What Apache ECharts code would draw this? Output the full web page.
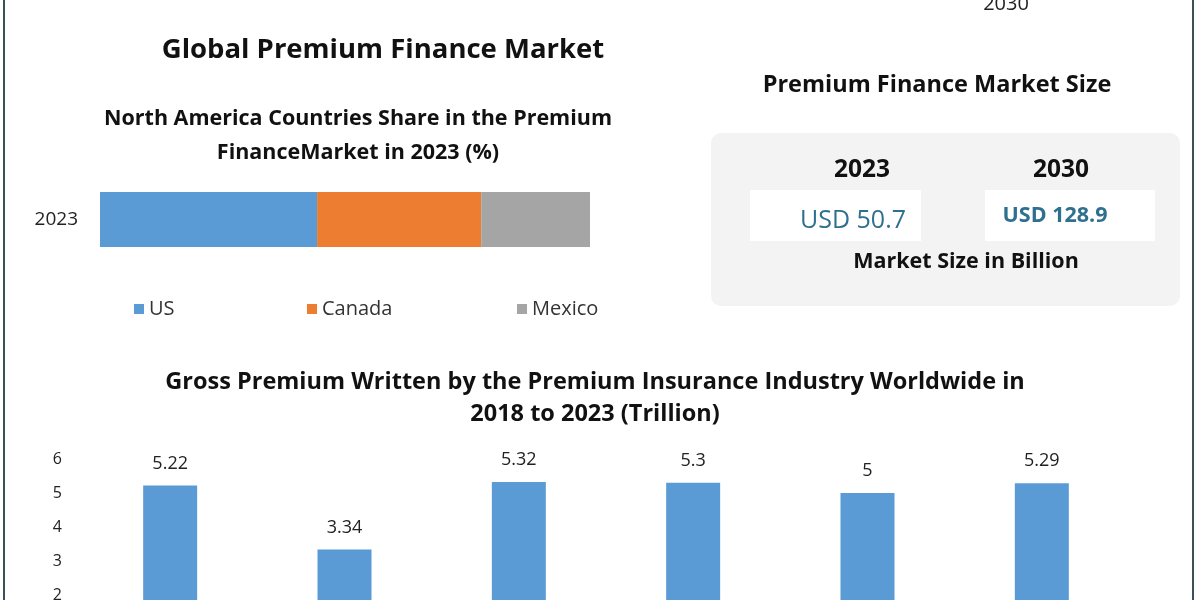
<!DOCTYPE html>
<html><head><meta charset="utf-8">
<script src="https://cdn.jsdelivr.net/npm/echarts@6/dist/echarts.min.js"></script>
<style>html,body{margin:0;padding:0;background:#fff}#c{width:1200px;height:600px}</style>
</head><body><div id="c"></div>
<script>
// Data
const shareYear = ['2023'];
const countries = ['US', 'Canada', 'Mexico'];
const shareUS = [44.3];
const shareCanada = [33.5];
const shareMexico = [22.2];
const sizeYears = ['2023', '2030'];
const sizeValues = ['USD 50.7', 'USD 128.9'];
const gpwYears = ['2018', '2019', '2020', '2021', '2022', '2023'];
const gpwValues = [5.22, 3.34, 5.32, 5.3, 5, 5.29];
const gpwTicks = [0, 1, 2, 3, 4, 5, 6];

const chart = echarts.init(document.getElementById('c'), null, {renderer: 'canvas'});
const F = '"Open Sans", "DejaVu Sans", sans-serif';
const colors = ['#5b9bd5', '#ed7d31', '#a5a5a5'];
const shareSeries = [shareUS, shareCanada, shareMexico];
const legendLeft = [134, 307, 517];

const option = {
  animation: false,
  backgroundColor: '#ffffff',
  textStyle: {fontFamily: F},
  legend: countries.map((c, i) => ({
    data: [c],
    left: legendLeft[i], top: 299, padding: 0,
    itemWidth: 10, itemHeight: 10,
    icon: 'rect',
    textStyle: {fontSize: 20, color: '#333', fontFamily: F}
  })),
  grid: [
    {left: 100, width: 490, top: 192, height: 55, outerBoundsMode: 'none'},
    {left: 83, width: 1046, top: 459, height: 204, outerBoundsMode: 'none'}
  ],
  xAxis: [
    {gridIndex: 0, type: 'value', min: 0, max: 100, show: false},
    {gridIndex: 1, type: 'category', data: gpwYears, show: false}
  ],
  yAxis: [
    {gridIndex: 0, type: 'category', data: shareYear,
     axisLine: {show: false}, axisTick: {show: false},
     axisLabel: {fontSize: 19, color: '#222', margin: 22, fontFamily: F}},
    {gridIndex: 1, type: 'value', min: gpwTicks[0], max: gpwTicks[gpwTicks.length - 1], interval: 1,
     axisLine: {show: false}, axisTick: {show: false}, splitLine: {show: false},
     axisLabel: {fontSize: 16, color: '#222', margin: 21, fontFamily: F}}
  ],
  series: countries.map((c, i) => ({
    name: c, type: 'bar', stack: 'share', xAxisIndex: 0, yAxisIndex: 0,
    data: shareSeries[i], barWidth: 55, itemStyle: {color: colors[i]}
  })).concat([{
    name: 'GPW', type: 'bar', xAxisIndex: 1, yAxisIndex: 1,
    data: gpwValues, barWidth: 54, itemStyle: {color: '#5b9bd5'},
    label: {show: true, position: 'top', distance: 13, fontSize: 18, color: '#222', fontFamily: F}
  }]),
  graphic: [
    {type: 'rect', left: 3, top: 0, shape: {width: 2, height: 600}, style: {fill: '#3d4f58'}},
    {type: 'rect', left: 1192, top: 0, shape: {width: 2, height: 600}, style: {fill: '#3d4f58'}},
    {type: 'text', x: 1006, y: 4, style: {text: '2030', font: '20px ' + F, fill: '#222', align: 'center', verticalAlign: 'middle'}},
    {type: 'text', x: 383, y: 50, style: {text: 'Global Premium Finance Market', font: 'bold 27.5px ' + F, fill: '#111', align: 'center', verticalAlign: 'middle'}},
    {type: 'text', x: 358, y: 119, style: {text: 'North America Countries Share in the Premium', font: 'bold 21.5px ' + F, fill: '#111', align: 'center', verticalAlign: 'middle'}},
    {type: 'text', x: 358, y: 153, style: {text: 'FinanceMarket in 2023 (%)', font: 'bold 21.5px ' + F, fill: '#111', align: 'center', verticalAlign: 'middle'}},
    {type: 'text', x: 937, y: 85, style: {text: 'Premium Finance Market Size', font: 'bold 23.5px ' + F, fill: '#111', align: 'center', verticalAlign: 'middle'}},
    {type: 'rect', shape: {x: 711, y: 133, width: 469, height: 173, r: 10}, style: {fill: '#f3f3f3'}},
    {type: 'rect', shape: {x: 750, y: 190, width: 171, height: 51}, style: {fill: '#ffffff'}},
    {type: 'rect', shape: {x: 985, y: 190, width: 170, height: 51}, style: {fill: '#ffffff'}},
    {type: 'text', x: 862, y: 170, style: {text: sizeYears[0], font: 'bold 24.5px ' + F, fill: '#111', align: 'center', verticalAlign: 'middle'}},
    {type: 'text', x: 1061, y: 170, style: {text: sizeYears[1], font: 'bold 24.5px ' + F, fill: '#111', align: 'center', verticalAlign: 'middle'}},
    {type: 'text', x: 853, y: 221, style: {text: sizeValues[0], font: '25px ' + F, fill: '#2f6f8f', align: 'center', verticalAlign: 'middle'}},
    {type: 'text', x: 1055, y: 216, style: {text: sizeValues[1], font: 'bold 21.5px ' + F, fill: '#2f6f8f', align: 'center', verticalAlign: 'middle'}},
    {type: 'text', x: 966, y: 262, style: {text: 'Market Size in Billion', font: 'bold 21.5px ' + F, fill: '#111', align: 'center', verticalAlign: 'middle'}},
    {type: 'text', x: 595, y: 382, style: {text: 'Gross Premium Written by the Premium Insurance Industry Worldwide in', font: 'bold 23.5px ' + F, fill: '#111', align: 'center', verticalAlign: 'middle'}},
    {type: 'text', x: 595, y: 414, style: {text: '2018 to 2023 (Trillion)', font: 'bold 23.5px ' + F, fill: '#111', align: 'center', verticalAlign: 'middle'}}
  ]
};
chart.setOption(option);
</script>
</body></html>
